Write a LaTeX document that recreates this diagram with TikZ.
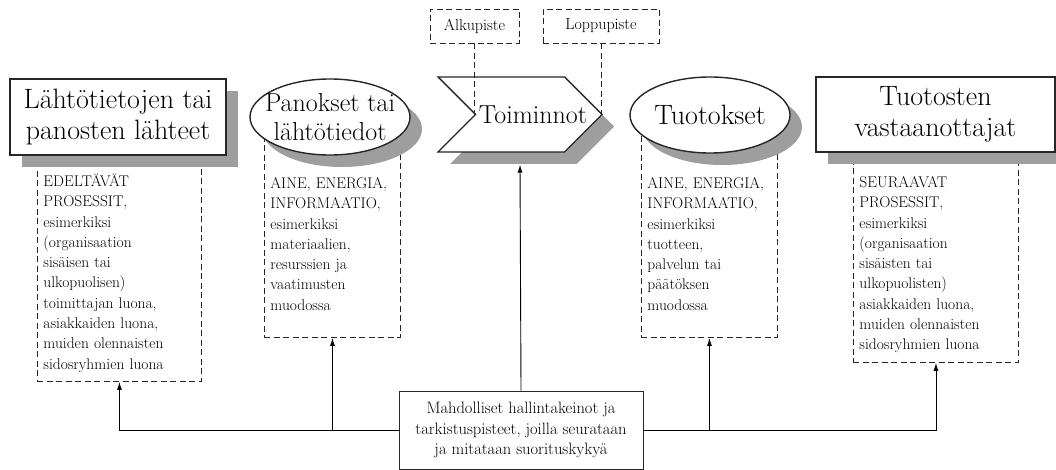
\documentclass[tikz,border=0pt]{standalone}
\usepackage{fontspec}
\usetikzlibrary{shapes.geometric,shapes.symbols,shadows,arrows.meta}
\newcommand{\isot}[1]{{\addfontfeature{FakeStretch=0.85}#1}}

\begin{document}
\begin{tikzpicture}[x=1pt, y=-1pt, >={Latex[length=8pt,width=5pt]}, line width=0.9pt]
        \tikzstyle{varjo} = [drop shadow={shadow xshift=12pt, shadow yshift=-12pt, fill=black!38, opacity=1}]
        \tikzstyle{otsikko} = [draw=black!85, line width=1.4pt, fill=white, varjo, align=center, inner sep=3pt, font=\fontsize{28}{31}\selectfont\addfontfeature{FakeBold=0.6}]
        \tikzstyle{soikio} = [ellipse, draw=black!85, line width=1.4pt, fill=white, varjo, inner sep=0pt, minimum width=160pt, minimum height=76pt]
        \tikzstyle{pieni} = [font=\fontsize{15.5}{20.3}\selectfont\addfontfeature{FakeBold=1.4}]
        \tikzstyle{selite} = [draw=black!85, dash pattern=on 6pt off 3.5pt, fill=white, align=left, inner sep=6pt, anchor=north west, pieni]
        \tikzstyle{piste} = [draw=black!85, dash pattern=on 6pt off 3.5pt, minimum height=34pt, font=\fontsize{16}{20}\selectfont\addfontfeature{FakeBold=1.4}]
        \tikzstyle{viiva} = [draw=black!85, dash pattern=on 6pt off 3.5pt]

        \useasboundingbox (0,0) rectangle (1056,470);

        \node [selite, text width=152pt, text height=30pt, text depth=189pt] (lahde-teksti) at (37,150) {\isot{EDELTÄVÄT}\\ \isot{PROSESSIT,}\\ esimerkiksi\\ (organisaation\\ sisäisen tai\\ ulkopuolisen)\\ toimittajan luona,\\ asiakkaiden luona,\\ muiden olennaisten\\ sidosryhmien luona};
        \node [selite, text width=124pt, text height=52pt, text depth=143pt] (panos-teksti) at (264,130) {\isot{AINE, ENERGIA,}\\ \isot{INFORMAATIO,}\\ esimerkiksi\\ materiaalien,\\ resurssien ja\\ vaatimusten\\ muodossa};
        \node [selite, text width=124pt, text height=52pt, text depth=143pt] (tuotos-teksti) at (641,130) {\isot{AINE, ENERGIA,}\\ \isot{INFORMAATIO,}\\ esimerkiksi\\ tuotteen,\\ palvelun tai\\ päätöksen\\ muodossa};
        \node [selite, text width=153pt, text height=36pt, text depth=169pt] (vast-teksti) at (853,145) {\isot{SEURAAVAT}\\ \isot{PROSESSIT,}\\ esimerkiksi\\ (organisaation\\ sisäisten tai\\ ulkopuolisten)\\ asiakkaiden luona,\\ muiden olennaisten\\ sidosryhmien luona};

        \node [otsikko, minimum width=216pt, minimum height=76pt] (lahde) at (118,117) {Lähtötietojen tai\\ panosten lähteet};
        \node [soikio, label={[align=center, font=\fontsize{26}{29}\selectfont\addfontfeature{FakeBold=0.6}]center:Panokset tai\\ lähtötiedot}] (panos) at (330,117) {};
        \node [signal, signal from=west, signal to=east, draw=black!85, line width=1.4pt, fill=white, varjo, inner sep=0pt, minimum width=164pt, minimum height=75pt, label={[xshift=13pt, font=\fontsize{26}{29}\selectfont\addfontfeature{FakeBold=0.6}]center:Toiminnot}] (toim) at (520,114.5) {};
        \node [soikio, label={[font=\fontsize{28}{31}\selectfont\addfontfeature{FakeBold=0.6}]center:Tuotokset}] (tuotos) at (710,115) {};
        \node [otsikko, minimum width=239pt, minimum height=75pt] (vast) at (935.5,114.5) {Tuotosten\\ vastaanottajat};

        \node [piste, minimum width=89pt] (alku) at (474.5,26) {Alkupiste};
        \node [piste, minimum width=116pt] (loppu) at (601,26) {Loppupiste};
        \draw [viiva] (alku.south) -- (alku.south |- toim.center);
        \draw [viiva] (loppu.south) -- (loppu.south |- toim.center);

        \node [draw=black!85, fill=white, align=center, minimum width=244pt, minimum height=78pt, font=\fontsize{16.5}{20.3}\selectfont\addfontfeature{FakeBold=1.4}] (hallinta) at (521,430) {Mahdolliset hallintakeinot ja\\ tarkistuspisteet, joilla seurataan\\ ja mitataan suorituskykyä};

        \draw [->] (hallinta.west) -| (lahde-teksti.south);
        \draw [->] (hallinta.west -| panos-teksti.south) -- (panos-teksti.south);
        \draw [->] (hallinta.north) -- ([yshift=-12pt]toim.south);
        \draw [->] (hallinta.east -| tuotos-teksti.south) -- (tuotos-teksti.south);
        \draw [->] (hallinta.east) -| (vast-teksti.south);
    \end{tikzpicture}
\end{document}
